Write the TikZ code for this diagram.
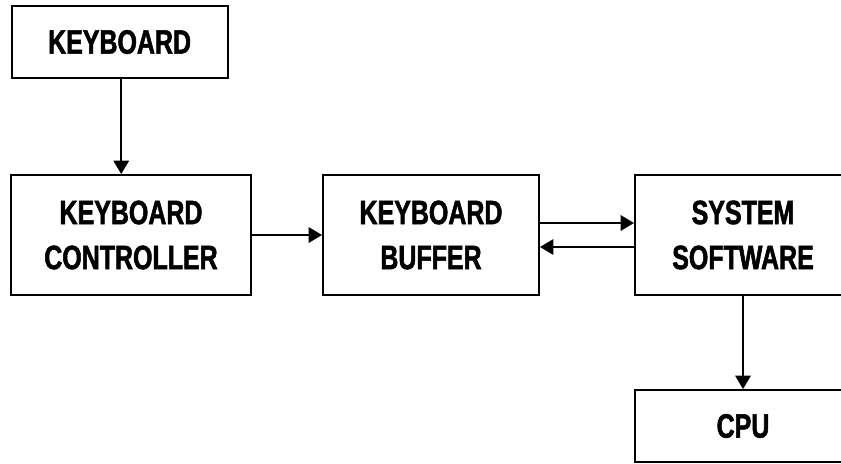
\documentclass[tikz,border=0pt]{standalone}
\usepackage{fontspec}
\usepackage{tikz}
\usetikzlibrary{arrows.meta}
\usetikzlibrary{positioning}
\newfontfamily\narrowfont[FakeStretch=0.74, FakeBold=1.6]{Liberation Sans}
\tikzset{block/.style = {draw, line width = 1.4pt, align = center, inner sep = 0,
                         font = \narrowfont\bfseries\fontsize{24}{32}\selectfont}}
\tikzset{wide/.style = {block, minimum width = 5.4cm, minimum height = 3cm}}
\tikzset{flat/.style = {block, minimum width = 5.4cm, minimum height = 1.8cm}}
\tikzset{link/.style = {line width = 1.2pt, -{Triangle[length = 9.5pt, width = 11pt]}}}

\begin{document}
\begin{tikzpicture}
           \useasboundingbox (0, 0) rectangle (21.025, -11.575);

           \node [flat] (kbd) at (2.99, -1.05) {KEYBOARD};
           \node [wide, minimum width = 6cm] (ctrl) at (3.275, -5.875) {KEYBOARD\\CONTROLLER};
           \node [wide] (buf) at (10.775, -5.875) {KEYBOARD\\BUFFER};
           \node [wide] (sys) at (18.575, -5.875) {SYSTEM\\SOFTWARE};
           \node [flat] (cpu) at (18.575, -10.65) {CPU};

           \draw [link] ([xshift=0.04cm]kbd.south) -- ([xshift=0.04cm]kbd.south |- ctrl.north);
           \draw [link] (ctrl.east) -- (buf.west);
           \draw [link] ([yshift=0.3cm]buf.east) -- ([yshift=0.3cm]sys.west);
           \draw [link] ([yshift=-0.3cm]sys.west) -- ([yshift=-0.3cm]buf.east);
           \draw [link] (sys.south) -- (cpu.north);
         \end{tikzpicture}
\end{document}
